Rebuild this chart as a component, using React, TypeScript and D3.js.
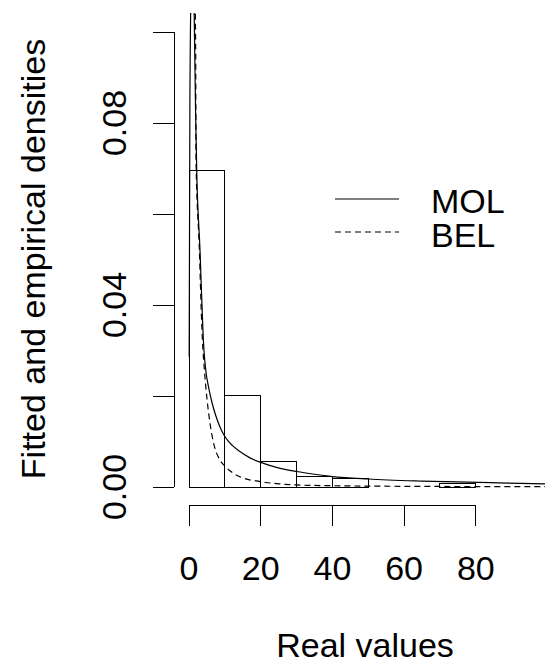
import React from "react";
import * as d3 from "d3";

// histogram (density per bin of width 10)
const binStarts = [0, 10, 20, 30, 40, 50, 60, 70];
const binDensity = [0.0695, 0.0202, 0.0056, 0.0024, 0.0018, 0, 0, 0.0008];

// fitted MOL density (solid)
const molX = [0.05, 0.25, 0.75, 1.1, 1.45, 1.9, 2.15, 3.07, 3.77, 4.0, 4.6, 5.5, 6.5, 7.5, 8.7, 10, 12, 14.2, 17, 20, 25.4, 30, 35, 40, 50, 65, 84, 100, 112];
const molY = [0.0286, 0.085, 0.12, 0.14, 0.104, 0.08, 0.0697, 0.052, 0.0367, 0.0323, 0.0262, 0.0218, 0.0183, 0.0156, 0.0131, 0.0111, 0.0092, 0.0078, 0.0064, 0.0054, 0.0041, 0.0034, 0.0028, 0.0023, 0.00176, 0.0013, 0.00095, 0.00066, 0.0005];

// fitted BEL density (dashed)
const belX = [1.5, 1.87, 1.95, 2.9, 3.5, 3.75, 4.3, 5.0, 5.86, 7.0, 8.65, 10, 12.4, 15, 19.8, 25, 30, 40, 50, 70, 90, 112];
const belY = [0.115, 0.095, 0.072, 0.052, 0.037, 0.0323, 0.0257, 0.0195, 0.014, 0.0092, 0.0059, 0.0046, 0.003, 0.002, 0.0012, 0.0007, 0.00045, 0.00028, 0.0002, 0.00012, 0.00008, 0.00006];

const xTicks = [0, 20, 40, 60, 80];
const yTicks = [0, 0.02, 0.04, 0.06, 0.08, 0.1];
const yTickLabels = ["0.00", "", "0.04", "", "0.08", ""];
const legendNames = ["MOL", "BEL"];

const font = "'Liberation Sans', Arial, sans-serif";

export default function App() {
  const x = d3.scaleLinear().domain([0, 80]).range([189, 475.8]);
  const y = d3.scaleLinear().domain([0, 0.1]).range([487, 32]);

  const line = d3
    .line<number>()
    .x((d) => x(d))
    .curve(d3.curveMonotoneX);

  const molPath = d3
    .line<number>()
    .x((d) => x(d))
    .y((d, i) => y(molY[i]))
    .curve(d3.curveMonotoneX)(molX);
  const belPath = d3
    .line<number>()
    .x((d) => x(d))
    .y((d, i) => y(belY[i]))
    .curve(d3.curveMonotoneX)(belX);
  void line;

  const axisY = 505;
  const axisX = 174;

  return (
    <svg
      width={545}
      height={669}
      style={{ position: "absolute", left: 0, top: 0, background: "#fff" }}
      fontFamily={font}
    >
      <defs>
        <clipPath id="plot">
          <rect x={axisX} y={13} width={450} height={axisY - 13} />
        </clipPath>
      </defs>

      {/* histogram */}
      <g fill="none" stroke="#000" strokeWidth={1} shapeRendering="crispEdges">
        {binStarts.map((b, i) => (
          <rect
            key={b}
            x={x(b)}
            y={y(binDensity[i])}
            width={x(b + 10) - x(b)}
            height={y(0) - y(binDensity[i])}
          />
        ))}
      </g>

      {/* fitted curves */}
      <g clipPath="url(#plot)" fill="none" stroke="#000" strokeWidth={1.2}>
        <path d={molPath || ""} />
        <path d={belPath || ""} strokeDasharray="6,4" />
      </g>

      {/* y axis */}
      <g stroke="#000" strokeWidth={1} shapeRendering="crispEdges">
        <line x1={axisX} x2={axisX} y1={y(0.1)} y2={y(0)} />
        {yTicks.map((t) => (
          <line key={t} x1={axisX - 21} x2={axisX} y1={y(t)} y2={y(t)} />
        ))}
      </g>
      {yTicks.map((t, i) =>
        yTickLabels[i] ? (
          <text
            key={t}
            transform={`translate(126,${y(t)}) rotate(-90)`}
            textAnchor="middle"
            fontSize={34}
            fill="#000"
          >
            {yTickLabels[i]}
          </text>
        ) : null
      )}
      <text
        transform={`translate(45,259) rotate(-90)`}
        textAnchor="middle"
        fontSize={34}
        fill="#000"
      >
        Fitted and empirical densities
      </text>

      {/* x axis */}
      <g stroke="#000" strokeWidth={1} shapeRendering="crispEdges">
        <line x1={x(0)} x2={x(80)} y1={axisY} y2={axisY} />
        {xTicks.map((t) => (
          <line key={t} x1={x(t)} x2={x(t)} y1={axisY} y2={axisY + 21} />
        ))}
      </g>
      {xTicks.map((t) => (
        <text key={t} x={x(t)} y={580} textAnchor="middle" fontSize={34} fill="#000">
          {t}
        </text>
      ))}
      <text x={365} y={657} textAnchor="middle" fontSize={34} fill="#000">
        Real values
      </text>

      {/* legend */}
      {legendNames.map((n, i) => (
        <g key={n}>
          <line
            x1={335}
            x2={399}
            y1={199 + i * 33}
            y2={199 + i * 33}
            stroke="#000"
            strokeWidth={1.2}
            strokeDasharray={i === 1 ? "6,4" : undefined}
          />
          <text x={431} y={213 + i * 33.5} fontSize={34} fill="#000">
            {n}
          </text>
        </g>
      ))}
    </svg>
  );
}
